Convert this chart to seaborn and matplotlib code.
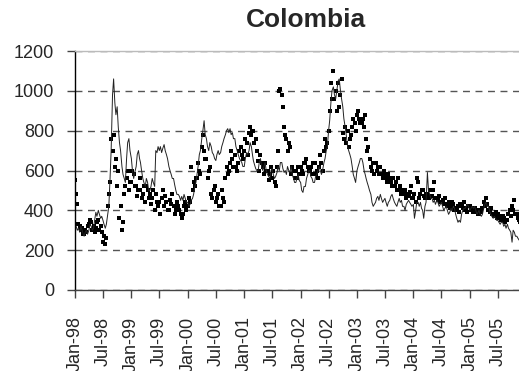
import numpy as np
import pandas as pd
import matplotlib
matplotlib.use("Agg")
import matplotlib.pyplot as plt
import matplotlib.dates as mdates
import seaborn as sns

sns.set_theme(style="white")
plt.rcParams['font.family'] = ['Liberation Sans', 'DejaVu Sans']

title = "Colombia"
y_ticks = [0, 200, 400, 600, 800, 1000, 1200]

# weekly observations (days 1, 8, 16, 23 of each month), Jan-1998 .. Dec-2005
line_values = [
    # 1998
    340, 320, 300, 310,  290, 320, 300, 280,  270, 290, 300, 280,
    300, 330, 320, 300,  310, 350, 390, 370,  400, 380, 360, 370,
    350, 330, 310, 330,  380, 420, 560, 700,  980, 1060, 940, 880,
    920, 820, 740, 700,  620, 580, 560, 540,  660, 740, 760, 700,
    # 1999
    660, 600, 560, 590,  620, 680, 700, 660,  640, 600, 560, 540,
    520, 560, 540, 500,  500, 520, 560, 540,  520, 700, 690, 720,
    700, 720, 690, 710,  730, 700, 680, 660,  620, 600, 580, 560,
    560, 530, 500, 480,  480, 470, 450, 470,  450, 480, 460, 440,
    # 2000
    440, 420, 430, 450,  460, 480, 520, 540,  580, 620, 680, 700,
    760, 800, 850, 780,  760, 720, 700, 740,  720, 690, 680, 660,
    650, 680, 700, 680,  690, 720, 740, 760,  780, 800, 810, 790,
    810, 780, 790, 760,  760, 720, 700, 680,  660, 650, 640, 620,
    # 2001
    620, 660, 690, 680,  700, 740, 720, 680,  650, 630, 610, 600,
    600, 640, 660, 620,  600, 620, 640, 600,  580, 570, 560, 600,
    610, 580, 560, 570,  590, 620, 600, 640,  640, 610, 590, 600,
    580, 620, 600, 590,  620, 580, 560, 540,  540, 560, 580, 550,
    # 2002
    540, 500, 490, 520,  520, 560, 580, 600,  600, 570, 560, 540,
    540, 570, 580, 600,  620, 600, 580, 600,  640, 660, 700, 720,
    800, 850, 940, 1000,  1020, 980, 960, 1000,  1050, 1060, 1000, 960,
    920, 860, 820, 780,  720, 700, 680, 660,  620, 580, 560, 540,
    # 2003
    600, 620, 640, 660,  660, 640, 600, 580,  560, 540, 520, 500,
    480, 440, 420, 430,  440, 460, 470, 450,  480, 460, 440, 450,
    460, 440, 420, 440,  450, 470, 480, 460,  440, 430, 420, 440,
    460, 440, 450, 420,  420, 400, 430, 440,  450, 440, 430, 420,
    # 2004
    430, 360, 400, 440,  440, 420, 440, 410,  400, 360, 420, 440,
    590, 500, 480, 460,  460, 440, 450, 430,  450, 440, 420, 430,
    440, 420, 400, 410,  420, 400, 380, 390,  410, 400, 420, 410,
    380, 360, 340, 350,  340, 380, 400, 410,  410, 420, 430, 420,
    # 2005
    400, 410, 420, 410,  420, 400, 380, 390,  400, 380, 370, 380,
    410, 430, 440, 420,  420, 400, 380, 370,  360, 370, 360, 350,
    350, 340, 330, 340,  340, 320, 330, 310,  330, 310, 300, 290,
    240, 300, 290, 270,  270, 260, 250, 260,  250, 245, 240, 245,
]

dot_values = [
    # 1998
    550, 480, 430, 330,  320, 300, 310, 280,  280, 300, 290, 320,
    330, 350, 340, 300,  320, 290, 310, 340,  350, 300, 320, 290,
    240, 270, 230, 260,  420, 480, 540, 760,  700, 780, 620, 660,
    520, 600, 360, 420,  300, 340, 480, 520,  560, 600, 500, 540,
    # 1999
    540, 600, 580, 520,  520, 470, 500, 560,  500, 460, 480, 520,
    440, 520, 500, 460,  480, 430, 460, 500,  400, 480, 440, 420,
    440, 380, 460, 500,  420, 470, 440, 400,  400, 450, 430, 480,
    420, 380, 400, 440,  420, 400, 380, 360,  380, 420, 440, 400,
    # 2000
    420, 460, 440, 620,  500, 540, 520, 560,  560, 640, 600, 580,
    720, 780, 700, 660,  660, 560, 600, 620,  480, 460, 500, 520,
    440, 460, 480, 420,  420, 500, 460, 440,  560, 620, 580, 600,
    640, 700, 660, 620,  680, 620, 600, 640,  700, 720, 680, 660,
    # 2001
    700, 760, 740, 680,  790, 820, 780, 800,  800, 740, 760, 700,
    650, 600, 680, 640,  620, 580, 640, 600,  600, 550, 580, 620,
    560, 600, 540, 520,  620, 700, 1000, 1010,  980, 920, 820, 780,
    760, 700, 740, 720,  580, 620, 600, 560,  600, 560, 620, 580,
    # 2002
    620, 600, 580, 640,  640, 660, 620, 600,  600, 620, 580, 640,
    640, 580, 600, 560,  620, 680, 640, 600,  700, 760, 720, 740,
    800, 900, 1040, 960,  1100, 960, 1000, 900,  1040, 920, 980, 1060,
    790, 760, 820, 740,  800, 720, 760, 780,  820, 860, 840, 800,
    # 2003
    880, 900, 860, 840,  840, 860, 820, 880,  760, 700, 720, 660,
    620, 600, 640, 580,  640, 600, 620, 580,  620, 580, 560, 600,
    580, 560, 540, 580,  560, 540, 520, 560,  520, 540, 500, 560,
    500, 520, 480, 500,  480, 500, 460, 480,  470, 490, 520, 460,
    # 2004
    460, 480, 440, 560,  540, 460, 480, 500,  500, 470, 460, 480,
    480, 460, 500, 470,  470, 500, 540, 460,  460, 450, 470, 440,
    440, 450, 430, 460,  430, 420, 440, 410,  420, 440, 430, 400,
    410, 400, 420, 390,  430, 420, 410, 440,  400, 410, 390, 420,
    # 2005
    420, 400, 410, 390,  410, 390, 400, 380,  380, 400, 390, 410,
    440, 420, 460, 430,  400, 390, 410, 380,  380, 370, 390, 360,
    380, 360, 370, 350,  370, 360, 340, 350,  350, 380, 400, 370,
    420, 400, 450, 380,  380, 360, 350, 340,  350, 340, 330, 340,
]

dates = []
for yr in range(1998, 2006):
    for mo in range(1, 13):
        for d in (1, 8, 16, 23):
            dates.append(pd.Timestamp(yr, mo, d))

df = pd.DataFrame({"date": dates, "line": line_values, "dots": dot_values})

W, H = 519, 371
fig = plt.figure(figsize=(W / 100, H / 100), dpi=100)
ax = fig.add_axes([75 / W, 81 / H, 444 / W, 239 / H])

sns.lineplot(data=df, x="date", y="line", ax=ax, color="#222222", linewidth=0.7)
sns.scatterplot(data=df, x="date", y="dots", ax=ax, color="black", marker="s",
                s=10, linewidth=0, edgecolor=None)

ax.set_ylim(0, 1200)
ax.set_xlim(pd.Timestamp(1998, 1, 1), pd.Timestamp(2005, 11, 15))
ax.set_yticks(y_ticks)
ax.yaxis.grid(True, linestyle=(0, (5, 4)), color="#555555", linewidth=1.0)
ax.xaxis.grid(False)
ax.set_axisbelow(True)

ax.xaxis.set_major_locator(mdates.MonthLocator(bymonth=[1, 7]))
ax.xaxis.set_major_formatter(mdates.DateFormatter("%b-%y"))

ax.spines["right"].set_visible(False)
ax.spines["top"].set_color("#bbbbbb")
ax.spines["top"].set_linewidth(1.0)
ax.spines["left"].set_color("black")
ax.spines["bottom"].set_color("#444444")
ax.spines["left"].set_linewidth(1.0)
ax.spines["bottom"].set_linewidth(1.0)

ax.tick_params(axis="y", which="major", direction="out", length=6, width=1,
               color="#444444", labelsize=13, pad=9, left=True)
ax.tick_params(axis="x", which="major", direction="out", length=6, width=1,
               color="#444444", labelsize=13, pad=13, bottom=True)
for lab in ax.get_xticklabels():
    lab.set_rotation(90)
ax.set_xlabel("")
ax.set_ylabel("")

fig.text(306 / W, 1 - 27 / H, title, ha="center", va="baseline",
         fontsize=19, fontweight="bold")

fig.savefig("out.png", dpi=100)
